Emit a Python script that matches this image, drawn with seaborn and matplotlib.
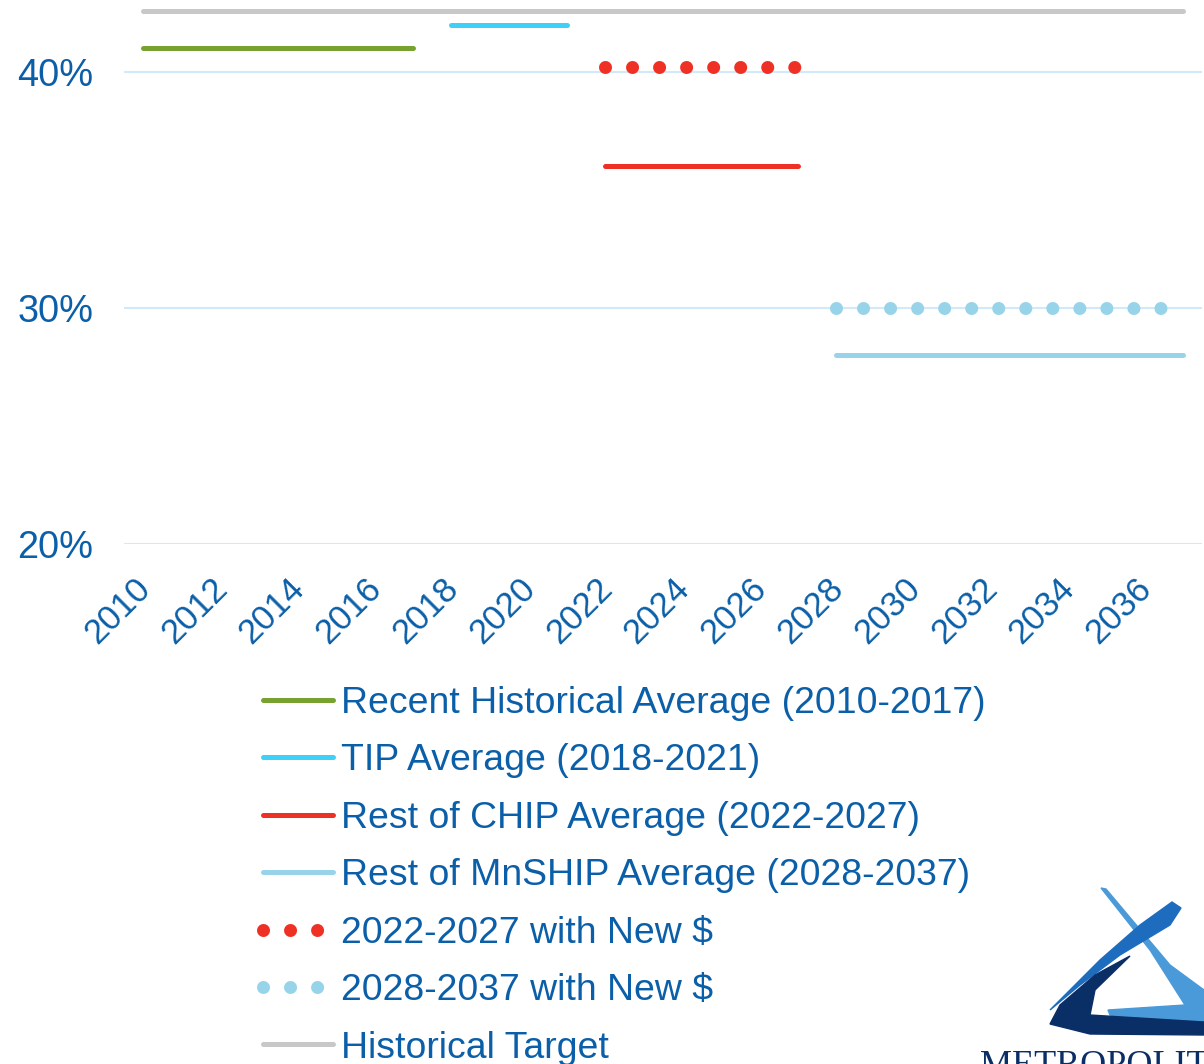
import matplotlib
matplotlib.use("Agg")
import matplotlib.pyplot as plt
import matplotlib.transforms as mtrans
import seaborn as sns
from matplotlib.patches import Polygon

# ---- data ----
hist_years = [2010, 2017]
hist_vals = [41.0, 41.0]
tip_years = [2018, 2021]
tip_vals = [42.0, 42.0]
chip_years = [2022, 2027]
chip_vals = [36.0, 36.0]
mnship_years = [2028, 2037]
mnship_vals = [28.0, 28.0]
chip_new_years = [2022, 2027]
chip_new_vals = [40.2, 40.2]
mnship_new_years = [2028, 2037]
mnship_new_vals = [30.0, 30.0]
target_years = [2010, 2037]
target_vals = [42.6, 42.6]
tick_years = [2010, 2012, 2014, 2016, 2018, 2020, 2022, 2024, 2026, 2028, 2030, 2032, 2034, 2036]
y_ticks = [20, 30, 40]

labels = [
    "Recent Historical Average (2010-2017)",
    "TIP Average (2018-2021)",
    "Rest of CHIP Average (2022-2027)",
    "Rest of MnSHIP Average (2028-2037)",
    "2022-2027 with New $",
    "2028-2037 with New $",
    "Historical Target",
]

sns.set_theme(style="white")
plt.rcParams['font.family'] = ['Liberation Sans', 'DejaVu Sans']

TXT = "#0B5FA8"
fig = plt.figure(figsize=(12.04, 10.64), dpi=100)
ax = fig.add_axes([124/1204, 1 - 544/1064, (1202-124)/1204, 544/1064])

solid_lw = 3.6
dot_lw = 9.4
dot_style = (0, (0.001, 2.07))

series = [
    (hist_years, hist_vals, "#78A22F", "-", solid_lw, labels[0]),
    (tip_years, tip_vals, "#3FD0F7", "-", solid_lw, labels[1]),
    (chip_years, chip_vals, "#EE3124", "-", solid_lw, labels[2]),
    (mnship_years, mnship_vals, "#97D4EA", "-", solid_lw, labels[3]),
    (chip_new_years, chip_new_vals, "#EE3124", dot_style, dot_lw, labels[4]),
    (mnship_new_years, mnship_new_vals, "#97D4EA", dot_style, dot_lw, labels[5]),
    (target_years, target_vals, "#C8C8C8", "-", solid_lw, labels[6]),
]

handles = []
for xs, ys, c, ls, lw, lab in series:
    sns.lineplot(x=xs, y=ys, ax=ax, color=c, linewidth=lw, label=lab,
                 solid_capstyle="round", dash_capstyle="round")
    line = ax.get_lines()[-1]
    if ls != "-":
        line.set_linestyle(ls)
        line.set_dash_capstyle("round")
    handles.append(line)

if ax.get_legend():
    ax.get_legend().remove()

ax.set_xlim(2009.5, 2037.5)
ax.set_ylim(20, 40 + 72/23.6)
ax.set_yticks(y_ticks)
ax.set_yticklabels([f"{v}%" for v in y_ticks])
ax.set_xticks(tick_years)
ax.set_xticklabels([str(y) for y in tick_years], rotation=45, ha="right",
                   va="top", rotation_mode="anchor")
ax.tick_params(axis="y", length=0, pad=22, labelsize=27.4, labelcolor=TXT)
ax.tick_params(axis="x", length=0, pad=14, labelsize=25, labelcolor=TXT)
off = mtrans.ScaledTranslation(-10/100, -8/100, fig.dpi_scale_trans)
for lbl in ax.get_xticklabels():
    lbl.set_transform(lbl.get_transform() + off)
ax.grid(axis="y", color="#D2E9FB", linewidth=1.5)
ax.grid(axis="x", visible=False)
ax.set_axisbelow(True)
for s in ax.spines.values():
    s.set_visible(False)
ax.set_xlabel("")
ax.set_ylabel("")

leg = fig.legend(handles=handles, labels=labels, loc="upper left",
                 bbox_to_anchor=(263/1204, 1 - 686/1064), frameon=False,
                 fontsize=26.9, handlelength=1.87, handletextpad=0.21,
                 labelspacing=0.6, borderpad=0, borderaxespad=0)
for t in leg.get_texts():
    t.set_color(TXT)

# ---- logo (partial, bottom right) ----
def px(points):
    return [(x/1204, 1 - y/1064) for x, y in points]

# light blue right side and inner bottom stroke
fig.patches.append(Polygon(px([(1101, 888), (1106, 889), (1170, 965), (1204, 990), (1204, 1028),
                               (1110, 1015), (1108, 1010), (1185, 1005), (1150, 950)]),
                           closed=True, color="#4A9ADA", transform=fig.transFigure))
# medium blue swoosh
fig.patches.append(Polygon(px([(1050, 1010), (1100, 960), (1140, 925), (1172, 902), (1181, 908),
                               (1170, 925), (1120, 955), (1080, 985)]),
                           closed=True, color="#1E6CBE", transform=fig.transFigure))
# dark navy swoosh
fig.patches.append(Polygon(px([(1130, 956), (1095, 990), (1090, 1015), (1204, 1022), (1204, 1035),
                               (1090, 1034), (1050, 1024), (1060, 1005), (1095, 975)]),
                           closed=True, color="#0A2E66", transform=fig.transFigure))
fig.text(980/1204, 1 - 1050/1064, "METROPOLITAN", fontsize=26, color="#0A2E66",
         family=["Liberation Serif", "DejaVu Serif"], ha="left", va="top")

fig.savefig("out.png", dpi=100)
